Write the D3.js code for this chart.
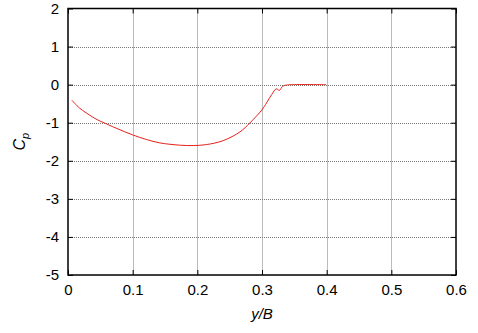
<!DOCTYPE html>
<html><head><meta charset="utf-8">
<script src="https://cdn.jsdelivr.net/npm/d3@7"></script>
<style>body{margin:0;background:#fff}svg{display:block}text{font-family:"Liberation Sans",Arial,sans-serif}</style>
</head><body>
<script>
const xTicks=[0,0.1,0.2,0.3,0.4,0.5,0.6];
const yTicks=[2,1,0,-1,-2,-3,-4,-5];
const xs=[0.006,0.0175,0.028,0.038,0.048,0.054,0.074,0.1,0.121,0.142,0.173,0.194,0.214,0.24,0.266,0.281,0.3,0.307,0.315,0.322,0.327,0.332,0.338,0.345,0.399];
const cp=[-0.41,-0.61,-0.74,-0.85,-0.945,-0.99,-1.14,-1.32,-1.44,-1.53,-1.59,-1.60,-1.575,-1.47,-1.24,-1.01,-0.66,-0.48,-0.26,-0.11,-0.15,-0.04,-0.01,0,0];
const W=478,H=333,m={l:68,r:22,t:8.5,b:58};
const svg=d3.select("body").append("svg").attr("width",W).attr("height",H);
const x=d3.scaleLinear().domain([0,0.6]).range([m.l,W-m.r]);
const y=d3.scaleLinear().domain([-5,2]).range([H-m.b,m.t]);
const g=svg.append("g");
const fmt=d=>String(d);
const sn=v=>Math.round(v)+0.5;
g.selectAll(".gx").data(xTicks.slice(1,-1)).join("line").attr("x1",d=>sn(x(d))).attr("x2",d=>sn(x(d))).attr("y1",y(2)).attr("y2",y(-5)).attr("stroke","#777").attr("stroke-width",1).attr("stroke-dasharray","1,1");
g.selectAll(".gy").data(yTicks.slice(1,-1)).join("line").attr("y1",d=>sn(y(d))).attr("y2",d=>sn(y(d))).attr("x1",x(0)).attr("x2",x(0.6)).attr("stroke","#777").attr("stroke-width",1).attr("stroke-dasharray","1,1");
const tl=5;
const axB=d3.axisBottom(x).tickValues(xTicks).tickSize(-tl).tickPadding(9).tickFormat(fmt);
const axT=d3.axisTop(x).tickValues(xTicks).tickSize(-tl).tickFormat("");
const axL=d3.axisLeft(y).tickValues(yTicks).tickSize(-tl).tickPadding(9).tickFormat(fmt);
const axR=d3.axisRight(y).tickValues(yTicks).tickSize(-tl).tickFormat("");
function style(s){s.select(".domain").remove();s.selectAll("line").attr("stroke","#000");s.selectAll("text").attr("font-size",15).attr("fill","#000").attr("font-family","Liberation Sans, Arial, sans-serif");}
svg.append("g").attr("transform",`translate(0,${y(-5)})`).call(axB).call(style);
svg.append("g").attr("transform",`translate(0,${y(2)})`).call(axT).call(style);
svg.append("g").attr("transform",`translate(${x(0)},0)`).call(axL).call(style);
svg.append("g").attr("transform",`translate(${x(0.6)},0)`).call(axR).call(style);
svg.append("rect").attr("x",x(0)).attr("y",y(2)).attr("width",x(0.6)-x(0)).attr("height",y(-5)-y(2)).attr("fill","none").attr("stroke","#000").attr("stroke-width",1.5);
const pts=xs.map((v,i)=>[v,cp[i]]);
svg.append("path").datum(pts).attr("fill","none").attr("stroke","#e8201a").attr("stroke-width",1)
 .attr("d",d3.line().x(d=>x(d[0])).y(d=>y(d[1])).curve(d3.curveCatmullRom.alpha(0.5)));
svg.append("text").attr("x",x(0.3)).attr("y",319).attr("text-anchor","middle").attr("font-size",15).attr("font-style","italic").text("y/B");
const yl=svg.append("text").attr("transform",`translate(25,${(y(2)+y(-5))/2}) rotate(-90)`).attr("text-anchor","middle").attr("font-size",16).attr("font-style","italic");
yl.append("tspan").text("C");
yl.append("tspan").attr("font-size",11).attr("dy",4).text("p");
</script>
</body></html>
